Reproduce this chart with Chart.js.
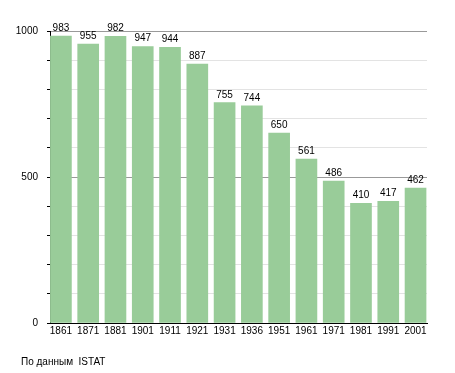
<!DOCTYPE html>
<html lang="ru">
<head>
  <meta charset="UTF-8" />
  <title>Население</title>
  <script src="https://cdn.jsdelivr.net/npm/chart.js"></script>
  <style>
    body { margin: 0; background: #fff; }
    #wrap { position: relative; width: 455px; height: 373px; }
    #source {
      position: absolute; left: 21px; top: 356px;
      font: 10px "Liberation Sans", Arial, sans-serif; line-height: 12px;
      color: #000; white-space: pre;
    }
  </style>
</head>
<body>
  <div id="wrap">
    <canvas id="popChart" width="455" height="373"></canvas>
    <div id="source">По данным  ISTAT</div>
  </div>

  <script>
    const years = ["1861", "1871", "1881", "1901", "1911", "1921", "1931", "1936", "1951", "1961", "1971", "1981", "1991", "2001"];
    const population = [983, 955, 982, 947, 944, 887, 755, 744, 650, 561, 486, 410, 417, 462];
    const yLabelled = [0, 500, 1000];

    const FONT = '"Liberation Sans", Arial, sans-serif';

    // numbers over the bars
    const valueLabels = {
      id: "valueLabels",
      afterDatasetsDraw(chart) {
        const ctx = chart.ctx;
        ctx.save();
        ctx.font = "10px " + FONT;
        ctx.fillStyle = "#000";
        ctx.textAlign = "center";
        ctx.textBaseline = "alphabetic";
        chart.getDatasetMeta(0).data.forEach((bar, i) => {
          ctx.fillText(String(population[i]), bar.x, bar.y - 5);
        });
        ctx.restore();
      }
    };

    const ctx = document.getElementById("popChart").getContext("2d");
    const chart = new Chart(ctx, {
      type: "bar",
      data: {
        datasets: [{
          data: population.map((v, i) => ({ x: i, y: v })),
          backgroundColor: "#99cc99",
          borderWidth: 0,
          barThickness: 21
        }]
      },
      options: {
        responsive: false,
        animation: false,
        layout: { padding: { top: 31, right: 28, bottom: 30, left: 0 } },
        plugins: {
          legend: { display: false },
          tooltip: { enabled: false }
        },
        scales: {
          x: {
            type: "linear",
            offset: false,
            min: -0.4,
            max: years.length - 1 + 0.42,
            afterBuildTicks: scale => { scale.ticks = years.map((_, i) => ({ value: i })); },
            afterFit: scale => { scale.height = 20; },
            grid: { display: false, drawTicks: false, offset: false },
            border: { display: true, color: "#000", width: 1 },
            ticks: {
              autoSkip: false,
              maxRotation: 0,
              padding: 2,
              color: "#000",
              font: { family: FONT, size: 10 },
              callback: v => years[v]
            }
          },
          y: {
            min: 0,
            max: 1000,
            afterFit: scale => { scale.width = 50; },
            grid: {
              color: c => (c.tick && c.tick.value % 500 === 0) ? "#999999" : "#e3e3e3",
              tickColor: "#000",
              tickLength: 3
            },
            border: { display: true, color: "#000", width: 1 },
            ticks: {
              stepSize: 100,
              padding: 9,
              color: "#000",
              font: { family: FONT, size: 10 },
              callback: v => yLabelled.includes(v) ? String(v) : ""
            }
          }
        }
      },
      plugins: [valueLabels]
    });
  </script>
</body>
</html>
